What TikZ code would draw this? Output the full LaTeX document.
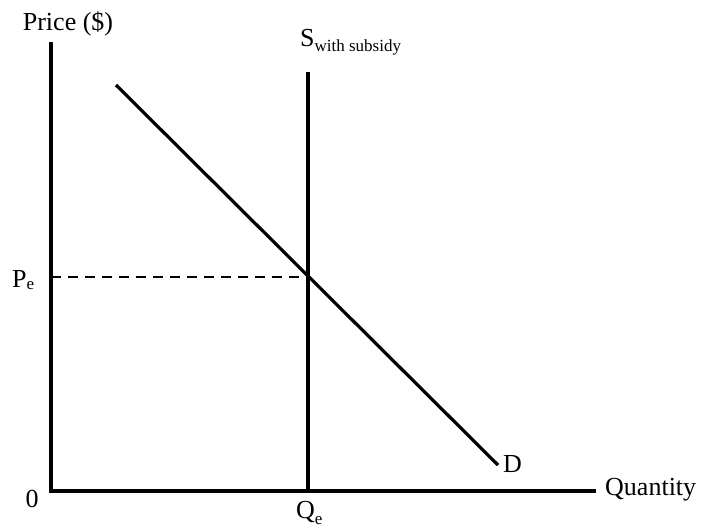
\documentclass[tikz,border=0pt]{standalone}
\usepackage{fontspec}
\setmainfont{Liberation Serif}
\newcommand{\bigtxt}{\fontsize{26}{30}\selectfont}
\newcommand{\subtxt}[2]{\raisebox{-#1pt}{\fontsize{17}{20}\selectfont #2}}
\begin{document}
\begin{tikzpicture}[x=1pt,y=-1pt,
  curve/.style={line width=3.2pt},
  axis/.style={line width=3.2pt},
  guide/.style={line width=2.6pt,dash pattern=on 10pt off 7pt},
  lbl/.style={inner sep=0pt,font=\bigtxt}]
\useasboundingbox (0,0) rectangle (703,529);
\coordinate (O) at (51,491);
\coordinate (Ytop) at (51,42);
\coordinate (Xend) at (596,491);
\coordinate (Stop) at (308,72);
\coordinate (Sbot) at (308,491);
\coordinate (Dtop) at (116,85);
\coordinate (Dbot) at (498,465);
\coordinate (E) at (308,277);
\coordinate (PeA) at (51,277);
\draw[guide] (PeA) -- (E);
\draw[axis] (Ytop) -- (O) -- (Xend);
\draw[curve] (Stop) -- (Sbot);
\draw[curve] (Dtop) -- (Dbot);
\node[lbl,anchor=base] (price) at (68,31) {Price (\$)};
\node[lbl,anchor=base west] (slab) at (300,47) {S\subtxt{5}{with subsidy}};
\node[lbl,anchor=base west] (pe) at (12,287) {P\subtxt{2}{e}};
\node[lbl,anchor=base] (zero) at (32,507) {0};
\node[lbl,anchor=base west] (qe) at (296,518) {Q\subtxt{6}{e}};
\node[lbl,anchor=base west] (dlab) at (503,472) {D};
\node[lbl,anchor=base west] (qty) at (605,495) {Quantity};
\end{tikzpicture}
\end{document}
